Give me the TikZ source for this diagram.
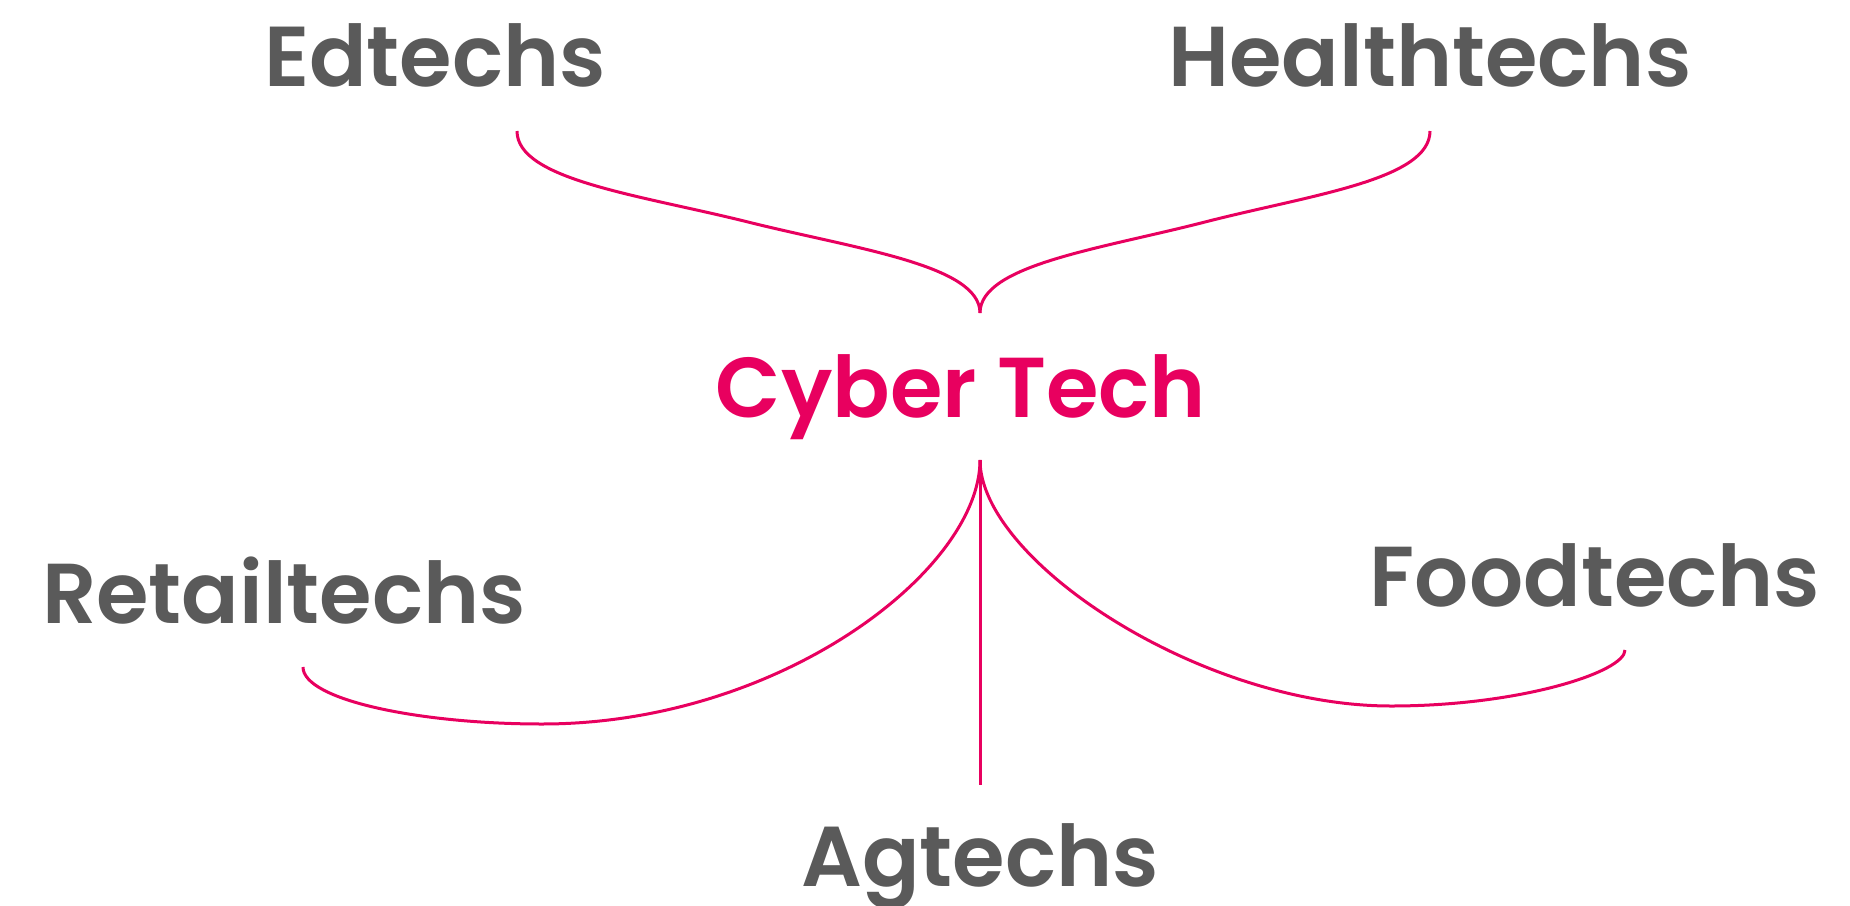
\documentclass[tikz,border=0pt]{standalone}
\usepackage{fontspec}
\setmainfont{Poppins}[BoldFont={Poppins SemiBold}]
\definecolor{cyberpink}{HTML}{E8005F}
\definecolor{techgray}{HTML}{5A5A5A}
\tikzset{
  sector/.style={text=techgray, anchor=base, inner sep=0pt,
    font=\fontsize{85}{100}\selectfont\bfseries},
  hub/.style={sector, text=cyberpink},
  link/.style={draw=cyberpink, line width=3pt}
}

\begin{document}
\begin{tikzpicture}[x=1pt, y=-1pt]
  \useasboundingbox (0,0) rectangle (1850,905);

  \node [sector] (edtechs) at (435,86) {Edtechs};
  \node [sector] (healthtechs) at (1430,86) {Healthtechs};
  \node [hub] (cyber) at (961,417) {Cyber Tech};
  \node [sector] (retailtechs) at (284,623) {Retailtechs};
  \node [sector] (foodtechs) at (1595,606) {Foodtechs};
  \node [sector] (agtechs) at (980,886) {Agtechs};

  % ends of the braces
  \coordinate (cusp) at (980,313);
  \coordinate (root) at (980,460);
  \coordinate (ed-end) at (517,131);
  \coordinate (health-end) at (1430,131);
  \coordinate (retail-end) at (303,667);
  \coordinate (food-end) at (1625,650);
  \coordinate (ag-end) at (980,785);

  \draw [link] (ed-end) .. controls +(0,49) and (640,195) .. (748,222)
    .. controls (856,249) and +(0,-48) .. (cusp);
  \draw [link] (health-end) .. controls +(0,49) and (1310,195) .. (1205,222)
    .. controls (1100,249) and +(0,-48) .. (cusp);

  \draw [link] (root) .. controls +(0,110) and (780,724) .. (542,724)
    .. controls (420,724) and +(0,33) .. (retail-end);
  \draw [link] (root) .. controls +(0,100) and (1200,706) .. (1391,706)
    .. controls (1520,706) and +(0,22) .. (food-end);
  \draw [link] (root) -- (ag-end);
\end{tikzpicture}
\end{document}
